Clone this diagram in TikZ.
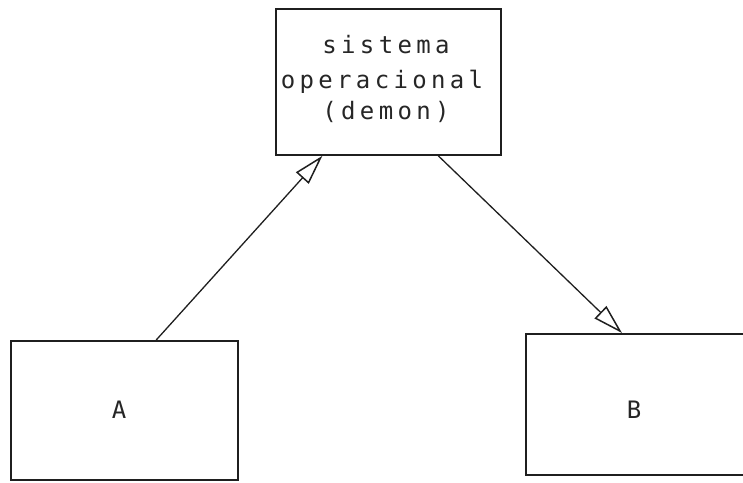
\documentclass[tikz,border=0pt]{standalone}
\usepackage{fontspec}
\newfontfamily\typewr[LetterSpace=18]{DejaVu Sans Mono}
\usetikzlibrary{arrows.meta,calc}
\begin{document}
\begin{tikzpicture}[x=1pt,y=-1pt,
  ink/.style={draw=black!88, line width=1.8pt},
  boxnode/.style={ink, rectangle, inner sep=0pt, anchor=north west},
  txt/.style={font=\typewr\fontsize{24}{28}\selectfont, text=black!85, inner sep=0pt, anchor=base},
  arr/.style={draw=black!88, line width=1.3pt,
    -{Triangle[open, length=30pt, width=17pt, line width=1.5pt]}}]
  \useasboundingbox (0,0) rectangle (743,482);
  \clip (0,0) rectangle (743,482);
  \fill[white] (0,0) rectangle (743,482);

  % the process boxes
  \node[boxnode, minimum width=225pt, minimum height=146pt] (top) at (275,8) {};
  \node[boxnode, minimum width=227pt, minimum height=139pt] (A) at (10,340) {};
  \node[boxnode, minimum width=240pt, minimum height=141pt] (B) at (525,333) {};

  % labels
  \node[txt] (t1) at (386,53) {sistema};
  \node[txt] (t2) at (382,88) {operacional};
  \node[txt] (t3) at (386,119) {(demon)};
  \node[txt] (la) at (119,418) {A};
  \node[txt] (lb) at (634,418) {B};

  % message flow through the daemon
  \draw[arr] ($(A.north west)!0.639!(A.north east)$) -- ($(top.south west)!0.209!(top.south east)$);
  \draw[arr] ($(top.south west)!0.72!(top.south east)$) -- ($(B.north west)+(97pt,0)$);
\end{tikzpicture}
\end{document}
